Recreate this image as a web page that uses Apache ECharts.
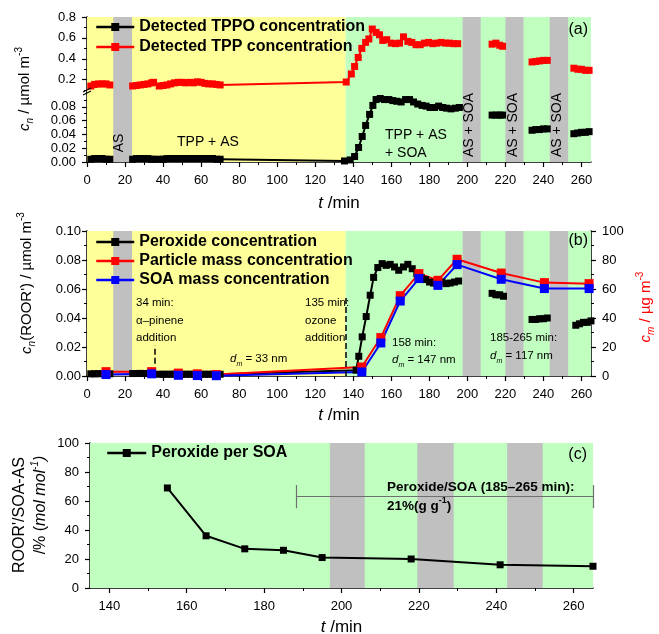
<!DOCTYPE html>
<html>
<head>
<meta charset="utf-8">
<script src="https://cdn.jsdelivr.net/npm/echarts@6/dist/echarts.min.js"></script>
<style>
  html, body { margin: 0; padding: 0; background: #fff; }
  #chart { width: 659px; height: 634px; }
</style>
</head>
<body>
<div id="chart"></div>
<script>
// ---------- data (time in min) ----------
// panel (a): detected TPP (upper, broken axis) and TPPO (lower)
var tppTime = [2, 4, 6, 8, 10, 12, 18, 24, 26, 28, 30, 32, 34, 35, 36.5,
  38, 40, 42, 44, 46, 48, 50, 52, 54, 56, 58, 60, 62, 64, 66, 68, 70,
  136.3, 139, 140.7, 142.6, 144.5, 146.5, 148.2, 150, 152, 153.8,
  155.5, 157.6, 160, 162.2, 164.3, 166.4, 168.7, 170.8, 173, 175.2,
  177.4, 179.7, 181.8, 183.9, 186.2, 188.5, 190.6, 192.7, 194.9, 205,
  213, 215, 217, 218.5, 226, 234, 236, 238, 240, 242, 250, 256, 258, 260, 262, 264];
var tppConc = [0.14, 0.155, 0.16, 0.16, 0.16, 0.15, null, 0.14, 0.145, 0.15, 0.155, 0.16, 0.17, 0.175, null,
  0.14, 0.145, 0.15, 0.16, 0.17, 0.175, 0.175, 0.17, 0.175, 0.17, 0.18, 0.175, 0.165, 0.16, 0.16, 0.155, 0.15,
  0.178, 0.255, 0.327, 0.413, 0.50, 0.557, 0.59, 0.685, 0.653, 0.63,
  0.576, 0.583, 0.55, 0.545, 0.55, 0.61, 0.567, 0.557, 0.535, 0.535,
  0.55, 0.557, 0.545, 0.55, 0.557, 0.55, 0.55, 0.545, 0.545, null,
  0.54, 0.55, 0.53, 0.52, null, 0.37, 0.375, 0.38, 0.385, 0.385, null, 0.31, 0.30, 0.30, 0.29, 0.29];

var tppoTime = [2, 4, 6, 8, 10, 12, 18, 24, 26, 28, 30, 32, 34, 35, 36.5,
  38, 40, 42, 44, 46, 48, 50, 52, 54, 56, 58, 60, 62, 64, 66, 68, 70,
  135.4, 138.4, 140.7, 142.8, 144.7, 146.5, 148.6, 150.3, 152, 154.2,
  156.4, 158.7, 160.8, 162.9, 165.2, 167.5, 169.6, 171.7, 173.9, 176.2,
  178.3, 180.4, 182.7, 184.9, 187, 189.1, 191.4, 193.7, 195.8, 205,
  213, 215, 217, 218.5, 226, 234, 236, 238, 240, 242, 250, 256, 258, 260, 262, 264];
var tppoConc = [0.004, 0.005, 0.005, 0.005, 0.004, 0.004, null, 0.004, 0.005, 0.005, 0.005, 0.005, 0.004, 0.004, null,
  0.004, 0.004, 0.005, 0.005, 0.005, 0.005, 0.005, 0.005, 0.005, 0.005, 0.005, 0.005, 0.005, 0.005, 0.005, 0.004, 0.004,
  0.0015, 0.003, 0.008, 0.021, 0.037, 0.053, 0.069, 0.082, 0.0905, 0.092,
  0.0905, 0.0905, 0.089, 0.088, 0.087, 0.0905, 0.0905, 0.087, 0.084, 0.082,
  0.081, 0.079, 0.079, 0.081, 0.079, 0.078, 0.077, 0.078, 0.079, null,
  0.068, 0.068, 0.068, 0.068, null, 0.046, 0.047, 0.047, 0.048, 0.048, null, 0.041, 0.042, 0.043, 0.043, 0.044];

// panel (b): peroxide (left axis), particle / SOA mass (right axis)
var peroxTime = [2, 4, 6, 8, 10, 12, 18, 24, 26, 28, 30, 32, 34, 36.5,
  38, 40, 42, 44, 46, 48, 50, 52, 54, 56, 58, 60, 62, 64, 66, 68, 70,
  141.5, 142.9, 144.7, 146.8, 148.9, 150.7, 152.9, 155.2, 157.3, 159.4,
  161.7, 163.9, 166.4, 168.7, 171, 173.4, 175.7, 178, 180.1, 182.2,
  184.5, 186.7, 188.8, 190.9, 193.2, 195.4, 205,
  213, 215, 217, 219, 226, 234, 236, 238, 240, 242, 250, 257, 259, 261, 263, 265];
var peroxConc = [0.0015, 0.0015, 0.0016, 0.0016, 0.0015, 0.0015, null, 0.0017, 0.0017, 0.0018, 0.0017, 0.0017, 0.0017, null,
  0.0012, 0.0012, 0.0012, 0.0012, 0.0013, 0.0012, 0.0012, 0.0012, 0.0012, 0.0012, 0.0012, 0.0012, 0.0012, 0.0012, 0.0012, 0.0012, 0.0012,
  0.004, 0.0136, 0.027, 0.041, 0.0557, 0.068, 0.0748, 0.0775, 0.0763, 0.077,
  0.0752, 0.0729, 0.0752, 0.077, 0.074, 0.0706, 0.068, 0.0665, 0.0648, 0.0641,
  0.0665, 0.0648, 0.0637, 0.0641, 0.0648, 0.0655, null,
  0.057, 0.056, 0.056, 0.055, null, 0.039, 0.039, 0.0395, 0.0395, 0.04, null, 0.035, 0.036, 0.037, 0.037, 0.038];

var massTime = [10, 34, 48, 58, 68, 144.5, 154.5, 164.7, 174.5, 184.5, 194.6, 217.8, 240.5, 264];
var particleMass = [3, 3, 2, 1.5, 1, 6.2, 26.5, 55.4, 70.6, 66, 80.5, 71, 64.4, 63.7];
var soaMass = [1, 1.5, 0.5, 0.3, 0.2, 2.8, 22.8, 51.7, 67.2, 62.5, 76.8, 66.7, 60.3, 60.3];

// panel (c): peroxide per SOA
var ratioTime = [155, 165, 175, 185, 195, 218, 241, 265];
var ratioPct = [69, 36, 27, 26, 21, 20, 16, 15];

// phases
var yellowSpan = [0, 136];
var greenSpan = [136, 265];
var greySpans = [[13.8, 23.7], [197.5, 207], [220, 229.5], [243.3, 253]];
var greySpansC = [[197, 206], [219.6, 229], [242.8, 252]];

var xTicks = [0, 20, 40, 60, 80, 100, 120, 140, 160, 180, 200, 220, 240, 260];
var xMinor = [10, 30, 50, 70, 90, 110, 130, 150, 170, 190, 210, 230, 250];
var xTicksC = [140, 160, 180, 200, 220, 240, 260];
var xMinorC = [150, 170, 190, 210, 230, 250];

// ---------- helpers ----------
var F = 'Liberation Sans, Arial, sans-serif';
var YELLOW = '#FFFF99', GREEN = '#C0FFC0', GREY = '#C0C0C0';

function pairs(t, v) {
  return t.map(function (x, i) { return [x, v[i] == null ? '-' : v[i]]; });
}

function bgAreas(y, g, greys) {
  var d = [];
  if (y) d.push([{ xAxis: y[0], itemStyle: { color: YELLOW } }, { xAxis: y[1] }]);
  d.push([{ xAxis: g[0], itemStyle: { color: GREEN } }, { xAxis: g[1] }]);
  greys.forEach(function (s) {
    d.push([{ xAxis: s[0], itemStyle: { color: GREY } }, { xAxis: s[1] }]);
  });
  return d;
}

function bgSeries(xi, yi, areas) {
  return {
    type: 'line', xAxisIndex: xi, yAxisIndex: yi, data: [], z: 0, silent: true,
    markArea: { silent: true, data: areas, itemStyle: { opacity: 1 } }
  };
}

var axisLine = { show: true, onZero: false, lineStyle: { color: '#000', width: 1.5 } };
var lbl = { color: '#000', fontSize: 13, fontFamily: F };

function minorAxis(gi, min, max, vals, pos) {
  return {
    type: 'value', gridIndex: gi, min: min, max: max, position: pos,
    axisLine: { show: false, onZero: false }, axisLabel: { show: false },
    splitLine: { show: false },
    axisTick: { show: true, length: 3, customValues: vals, lineStyle: { color: '#000', width: 1 } }
  };
}

function mainX(gi, min, max, ticks, nameGap, show) {
  return {
    type: 'value', gridIndex: gi, min: min, max: max, show: show !== false,
    axisLine: axisLine,
    axisTick: { length: 5, customValues: ticks, lineStyle: { color: '#000', width: 1.2 } },
    axisLabel: Object.assign({ customValues: ticks, margin: 12 }, lbl),
    splitLine: { show: false },
    name: nameGap ? '{i|t} /min' : '',
    nameLocation: 'middle', nameGap: nameGap || 30,
    nameTextStyle: { color: '#000', fontSize: 17, fontFamily: F, rich: { i: { fontStyle: 'italic', fontSize: 17, fontFamily: F } } }
  };
}

function seriesLine(name, xi, yi, data, color, size) {
  return {
    name: name, type: 'line', xAxisIndex: xi, yAxisIndex: yi, data: data, z: 3,
    symbol: 'rect', symbolSize: size, connectNulls: false,
    lineStyle: { color: color, width: 2 }, itemStyle: { color: color },
    emphasis: { disabled: true }
  };
}

function rtext(x, y, text, rich, extra) {
  var style = Object.assign({ text: text, fill: '#000', fontFamily: F, fontSize: 14, rich: rich, align: 'left', verticalAlign: 'middle' }, extra || {});
  return { type: 'text', x: x, y: y, z: 50, style: style };
}

function vtext(x, y, text, rich, extra) {
  var el = rtext(x, y, text, rich, Object.assign({ align: 'center' }, extra || {}));
  el.rotation = Math.PI / 2;
  return el;
}

function richSet(size, color) {
  color = color || '#000';
  var sm = Math.round(size * 0.65);
  return {
    r: { fontSize: size, fontFamily: F, fill: color, lineHeight: size + 6 },
    i: { fontSize: size, fontFamily: F, fill: color, fontStyle: 'italic', lineHeight: size + 6 },
    b: { fontSize: size, fontFamily: F, fill: color, fontWeight: 'bold', lineHeight: size + 6 },
    si: { fontSize: sm, fontFamily: F, fill: color, fontStyle: 'italic', verticalAlign: 'bottom', lineHeight: size + 6 },
    p: { fontSize: sm, fontFamily: F, fill: color, verticalAlign: 'top', lineHeight: size + 6 },
    pi: { fontSize: sm, fontFamily: F, fill: color, fontStyle: 'italic', verticalAlign: 'top', lineHeight: size + 6 },
    pb: { fontSize: sm, fontFamily: F, fill: color, fontWeight: 'bold', verticalAlign: 'top', lineHeight: size + 6 }
  };
}

var chart = echarts.init(document.getElementById('chart'));

var legendText = { color: '#000', fontSize: 16, fontWeight: 'bold', fontFamily: F };

chart.setOption({
  animation: false,
  grid: [
    { left: 87, top: 17, width: 504, height: 76, outerBoundsMode: 'none' },
    { left: 87, top: 93, width: 504, height: 69, outerBoundsMode: 'none' },
    { left: 87, top: 231, width: 504, height: 145, outerBoundsMode: 'none' },
    { left: 90, top: 443, width: 503, height: 145, outerBoundsMode: 'none' }
  ],
  legend: [
    {
      data: ['Detected TPPO concentration', 'Detected TPP concentration'],
      orient: 'vertical', left: 90, top: 14, itemWidth: 38, itemHeight: 10, itemGap: 4,
      textStyle: legendText, selectedMode: false, lineStyle: { width: 2.5 }
    },
    {
      data: ['Peroxide concentration', 'Particle mass concentration', 'SOA mass concentration'],
      orient: 'vertical', left: 90, top: 229, itemWidth: 38, itemHeight: 10, itemGap: 3,
      textStyle: legendText, selectedMode: false, lineStyle: { width: 2.5 }
    },
    {
      data: ['Peroxide per SOA'], orient: 'vertical', left: 101, top: 440, itemWidth: 39, itemHeight: 10,
      textStyle: legendText, selectedMode: false, lineStyle: { width: 2.5 }
    }
  ],
  xAxis: [
    mainX(0, 0, 265, xTicks, 0, false),                // 0 upper (a), hidden
    mainX(1, 0, 265, xTicks, 33),                      // 1 lower (a)
    minorAxis(1, 0, 265, xMinor, 'bottom'),            // 2
    mainX(2, 0, 265, xTicks, 31),                      // 3 (b)
    minorAxis(2, 0, 265, xMinor, 'bottom'),            // 4
    mainX(3, 135, 265, xTicksC, 31),                   // 5 (c)
    minorAxis(3, 135, 265, xMinorC, 'bottom')          // 6
  ],
  yAxis: [
    { // 0 upper (a)
      type: 'value', gridIndex: 0, min: 0.073, max: 0.8, position: 'left',
      axisLine: axisLine, splitLine: { show: false },
      axisTick: { length: 5, customValues: [0.2, 0.4, 0.6, 0.8], lineStyle: { color: '#000', width: 1.2 } },
      axisLabel: Object.assign({ customValues: [0.2, 0.4, 0.6, 0.8], margin: 11, formatter: function (v) { return v.toFixed(1); } }, lbl)
    },
    minorAxis(0, 0.073, 0.8, [0.1, 0.3, 0.5, 0.7], 'left'), // 1
    { // 2 lower (a)
      type: 'value', gridIndex: 1, min: 0, max: 0.1, position: 'left',
      axisLine: axisLine, splitLine: { show: false },
      axisTick: { length: 5, customValues: [0, 0.02, 0.04, 0.06, 0.08], lineStyle: { color: '#000', width: 1.2 } },
      axisLabel: Object.assign({ customValues: [0, 0.02, 0.04, 0.06, 0.08], margin: 11, formatter: function (v) { return v.toFixed(2); } }, lbl)
    },
    minorAxis(1, 0, 0.1, [0.01, 0.03, 0.05, 0.07, 0.09], 'left'), // 3
    { // 4 (b) left
      type: 'value', gridIndex: 2, min: 0, max: 0.1, interval: 0.02, position: 'left',
      axisLine: axisLine, splitLine: { show: false },
      axisTick: { length: 5, lineStyle: { color: '#000', width: 1.2 } },
      minorTick: { show: true, splitNumber: 2, length: 3, lineStyle: { color: '#000' } },
      axisLabel: Object.assign({ margin: 6, formatter: function (v) { return v.toFixed(2); } }, lbl)
    },
    { // 5 (b) right
      type: 'value', gridIndex: 2, min: 0, max: 100, interval: 20, position: 'right',
      axisLine: axisLine, splitLine: { show: false },
      axisTick: { length: 5, lineStyle: { color: '#000', width: 1.2 } },
      minorTick: { show: true, splitNumber: 2, length: 3, lineStyle: { color: '#000' } },
      axisLabel: Object.assign({ margin: 11 }, lbl)
    },
    { // 6 (c)
      type: 'value', gridIndex: 3, min: 0, max: 100, interval: 20, position: 'left',
      axisLine: axisLine, splitLine: { show: false },
      axisTick: { length: 5, lineStyle: { color: '#000', width: 1.2 } },
      minorTick: { show: true, splitNumber: 2, length: 3, lineStyle: { color: '#000' } },
      axisLabel: Object.assign({ margin: 11 }, lbl)
    }
  ],
  series: [
    bgSeries(0, 0, bgAreas(yellowSpan, greenSpan, greySpans)),
    bgSeries(1, 2, bgAreas(yellowSpan, greenSpan, greySpans)),
    bgSeries(3, 4, bgAreas(yellowSpan, greenSpan, greySpans)),
    bgSeries(5, 6, bgAreas(null, [135, 265], greySpansC)),
    seriesLine('Detected TPPO concentration', 1, 2, pairs(tppoTime, tppoConc), '#000', 7),
    seriesLine('Detected TPP concentration', 0, 0, pairs(tppTime, tppConc), '#FF0000', 7),
    Object.assign(seriesLine('Peroxide concentration', 3, 4, pairs(peroxTime, peroxConc), '#000', 7), {
      markLine: {
        silent: true, symbol: ['none', 'none'], label: { show: false },
        lineStyle: { color: '#000', type: 'dashed', width: 1.5 },
        data: [
          [{ coord: [35.7, 0.0085] }, { coord: [35.7, 0.021] }],
          [{ coord: [135.8, 0] }, { coord: [135.8, 0.055] }]
        ]
      }
    }),
    seriesLine('Particle mass concentration', 3, 5, pairs(massTime, particleMass), '#FF0000', 9),
    seriesLine('SOA mass concentration', 3, 5, pairs(massTime, soaMass), '#0000FF', 9),
    Object.assign(seriesLine('Peroxide per SOA', 5, 6, pairs(ratioTime, ratioPct), '#000', 7), {
      markLine: {
        silent: true, symbol: ['none', 'none'], label: { show: false },
        lineStyle: { color: '#707070', type: 'solid', width: 1.2 },
        data: [
          [{ coord: [188.3, 63] }, { coord: [265, 63] }],
          [{ coord: [188.3, 55] }, { coord: [188.3, 71] }],
          [{ coord: [265, 55] }, { coord: [265, 71] }]
        ]
      }
    })
  ],
  graphic: [
    // broken-axis marks
    { type: 'line', z: 50, shape: { x1: 83, y1: 92, x2: 91, y2: 88 }, style: { stroke: '#000', lineWidth: 1.2 } },
    { type: 'line', z: 50, shape: { x1: 83, y1: 95, x2: 91, y2: 91 }, style: { stroke: '#000', lineWidth: 1.2 } },
    // axis titles
    vtext(25, 89, '{i|c}{si|n}{r| / µmol m}{p|-3}', richSet(15)),
    vtext(27, 283, '{i|c}{si|n}{r|(ROOR\') / µmol m}{p|-3}', richSet(15)),
    vtext(646, 307, '{i|c}{si|m}{r| / µg m}{p|-3}', richSet(15, '#FF0000')),
    vtext(20, 515, '{r|ROOR\'/SOA-AS}', richSet(16)),
    vtext(41, 505, '{r|/% (}{i|mol mol}{pi|-1}{i|)}', richSet(16)),
    // panel labels
    rtext(588, 30, '(a)', null, { align: 'right', fontSize: 16 }),
    rtext(588, 241, '(b)', null, { align: 'right', fontSize: 16 }),
    rtext(587, 455, '(c)', null, { align: 'right', fontSize: 16 }),
    // panel (a) phases
    rtext(177, 142, 'TPP + AS', null, { fontSize: 14 }),
    rtext(385, 135, 'TPP + AS', null, { fontSize: 14 }),
    rtext(385, 153, '+ SOA', null, { fontSize: 14 }),
    vtext(119, 143, '{r|AS}', richSet(14)),
    vtext(469, 125, '{r|AS + SOA}', richSet(14)),
    vtext(513, 125, '{r|AS + SOA}', richSet(14)),
    vtext(557, 125, '{r|AS + SOA}', richSet(14)),
    // panel (b) notes
    rtext(136, 303, '34 min:', null, { fontSize: 11.5 }),
    rtext(136, 321, 'α–pinene', null, { fontSize: 11.5 }),
    rtext(136, 338, 'addition', null, { fontSize: 11.5 }),
    rtext(305, 303, '135 min:', null, { fontSize: 11.5 }),
    rtext(305, 321, 'ozone', null, { fontSize: 11.5 }),
    rtext(305, 338, 'addition', null, { fontSize: 11.5 }),
    rtext(230, 359, '{i|d}{si|m}{r| = 33 nm}', richSet(11.5)),
    rtext(392, 343, '158 min:', null, { fontSize: 11.5 }),
    rtext(392, 360, '{i|d}{si|m}{r| = 147 nm}', richSet(11.5)),
    rtext(490, 338, '185-265 min:', null, { fontSize: 11.5 }),
    rtext(490, 356, '{i|d}{si|m}{r| = 117 nm}', richSet(11.5)),
    // panel (c) note
    rtext(387, 487, 'Peroxide/SOA (185–265 min):', null, { fontSize: 13.5, fontWeight: 'bold' }),
    rtext(387, 506, '{b|21%(g g}{pb|-1}{b|)}', richSet(13.5))
  ]
});
</script>
</body>
</html>
